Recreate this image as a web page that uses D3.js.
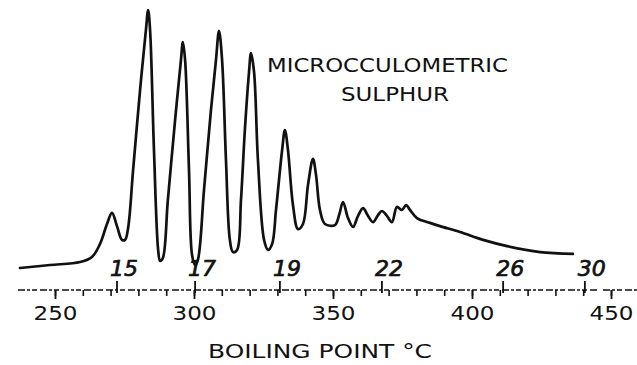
<!DOCTYPE html>
<html>
<head>
<meta charset="utf-8">
<script src="https://cdn.jsdelivr.net/npm/d3@7"></script>
<style>
  html, body { margin: 0; padding: 0; background: #fff; }
  svg { display: block; }
  text { font-family: "DejaVu Sans", "Liberation Sans", sans-serif; fill: #111; }
</style>
</head>
<body>
<svg id="chart" width="637" height="365"></svg>
<script>
// Microcoulometric sulphur trace against boiling point (°C)
const boilingPoint = [237.4, 248.2, 259.0, 263.3, 266.2, 268.7, 270.5, 272.3, 274.1, 275.2,
  276.3, 278.1, 280.6, 282.7, 283.5, 284.2, 285.6, 287.1, 287.8, 288.8,
  290.6, 293.2, 295.3, 296.0, 296.8, 298.2, 299.3, 300.4, 301.4, 303.6,
  306.1, 307.9, 309.0, 310.1, 311.5, 312.9, 314.0, 315.5, 316.9, 318.3,
  319.8, 320.5, 321.6, 323.0, 325.2, 326.6, 328.1, 329.5, 331.7, 332.7,
  333.8, 335.6, 337.4, 339.2, 341.0, 342.8, 343.9, 345.3, 347.1, 350.7,
  352.2, 353.6, 355.4, 357.2, 359.0, 360.8, 362.6, 364.4, 366.2, 367.6,
  369.4, 371.2, 373.0, 374.8, 376.3, 377.7, 380.2, 384.9, 388.5, 395.7,
  404.0, 412.6, 424.5, 436.3];
const response = [2.6, 3.7, 4.8, 6.7, 11.5, 18.9, 23.0, 18.1, 13.0, 13.0,
  17.4, 38.9, 68.5, 90.7, 98.1, 90.7, 46.3, 9.3, 5.2, 6.3,
  27.8, 57.4, 79.6, 86.3, 79.6, 38.9, 7.4, 3.7, 5.6, 31.5,
  61.1, 79.6, 90.4, 79.6, 42.6, 13.0, 8.5, 9.3, 27.8, 53.7,
  75.2, 82.2, 75.2, 42.6, 13.0, 9.3, 11.5, 24.1, 46.3, 53.7,
  46.3, 25.9, 17.0, 18.9, 33.3, 43.0, 37.0, 24.1, 18.9, 18.5,
  22.2, 27.0, 21.1, 17.8, 21.9, 24.8, 21.9, 19.6, 22.2, 23.7,
  21.9, 19.6, 25.2, 24.1, 25.9, 24.1, 21.1, 19.3, 18.1, 15.9,
  13.0, 10.7, 8.5, 7.8];

// n-paraffin carbon numbers marked on the temperature scale
const carbonNumbers = [15, 17, 19, 22, 26, 30];
const carbonBoilingPoint = [272.3, 300.4, 330.9, 367.6, 411.2, 440.6];

// temperature scale ticks
const majorTicks = [250, 300, 350, 400, 450];
const minorTicks = d3.range(250, 451, 10);

const svg = d3.select("#chart");
const axisY = 290;

const x = d3.scaleLinear().domain([250, 450]).range([55, 611]);
const y = d3.scaleLinear().domain([0, 100]).range([275, 5]);

// trace
const pts = boilingPoint.map((t, i) => [t, response[i]]);
const line = d3.line()
  .x(d => x(d[0]))
  .y(d => y(d[1]))
  .curve(d3.curveCatmullRom.alpha(0.5));

svg.append("path")
  .datum(pts)
  .attr("d", line)
  .attr("fill", "none")
  .attr("stroke", "#111")
  .attr("stroke-width", 2.7)
  .attr("stroke-linejoin", "round")
  .attr("stroke-linecap", "round");

// dashed base line of the scale
const baseSegs = [[x.invert(18), x.invert(597)], [x.invert(603), x.invert(637)]];
svg.selectAll("line.base")
  .data(baseSegs)
  .join("line")
  .attr("class", "base")
  .attr("x1", d => x(d[0]))
  .attr("x2", d => x(d[1]))
  .attr("y1", axisY).attr("y2", axisY)
  .attr("stroke", "#111")
  .attr("stroke-width", 1.6)
  .attr("stroke-dasharray", "7,2,3,2,5,3");

// minor temperature ticks
const minorAxis = d3.axisBottom(x).tickValues(minorTicks).tickSize(6).tickFormat("");
const gMinor = svg.append("g").attr("transform", `translate(0,${axisY})`).call(minorAxis);
gMinor.select(".domain").remove();
gMinor.selectAll(".tick line").attr("stroke", "#111").attr("stroke-width", 1.6);

// major temperature ticks with labels
const majorAxis = d3.axisBottom(x).tickValues(majorTicks).tickSize(9).tickPadding(7).tickFormat(d3.format("d"));
const gMajor = svg.append("g").attr("transform", `translate(0,${axisY})`).call(majorAxis);
gMajor.select(".domain").remove();
gMajor.selectAll(".tick line").attr("stroke", "#111").attr("stroke-width", 1.8);
gMajor.selectAll(".tick text")
  .attr("font-size", 20)
  .attr("font-family", "DejaVu Sans, sans-serif")
  .attr("fill", "#111")
  .attr("textLength", 44)
  .attr("lengthAdjust", "spacingAndGlyphs");

// carbon number ticks above the scale
const cScale = d3.scaleOrdinal().domain(carbonNumbers).range(carbonBoilingPoint.map(v => x(v)));
const carbonAxis = d3.axisTop(d3.scalePoint().domain(carbonNumbers).range([0, 1]))
  .tickValues(carbonNumbers).tickSize(9).tickPadding(5);
const gC = svg.append("g").attr("transform", `translate(0,${axisY})`).call(carbonAxis);
gC.select(".domain").remove();
gC.selectAll(".tick").attr("transform", d => `translate(${cScale(d)},0)`);
gC.selectAll(".tick line").attr("stroke", "#111").attr("stroke-width", 1.8).attr("y2", -9).attr("y1", 3);
gC.selectAll(".tick text")
  .attr("font-size", 22)
  .attr("font-style", "italic")
  .attr("font-family", "DejaVu Sans, sans-serif")
  .attr("fill", "#111")
  .attr("stroke", "#111")
  .attr("stroke-width", 0.7)
  .attr("dx", 7);

// axis title
svg.append("text")
  .attr("x", 208).attr("y", 358)
  .attr("font-size", 20)
  .attr("textLength", 224)
  .attr("lengthAdjust", "spacingAndGlyphs")
  .text("BOILING POINT °C");

// trace label
svg.append("text")
  .attr("x", 267).attr("y", 72)
  .attr("font-size", 19)
  .attr("textLength", 241)
  .attr("lengthAdjust", "spacingAndGlyphs")
  .text("MICROCCULOMETRIC");
svg.append("text")
  .attr("x", 341).attr("y", 101)
  .attr("font-size", 19)
  .attr("textLength", 108)
  .attr("lengthAdjust", "spacingAndGlyphs")
  .text("SULPHUR");
</script>
</body>
</html>
